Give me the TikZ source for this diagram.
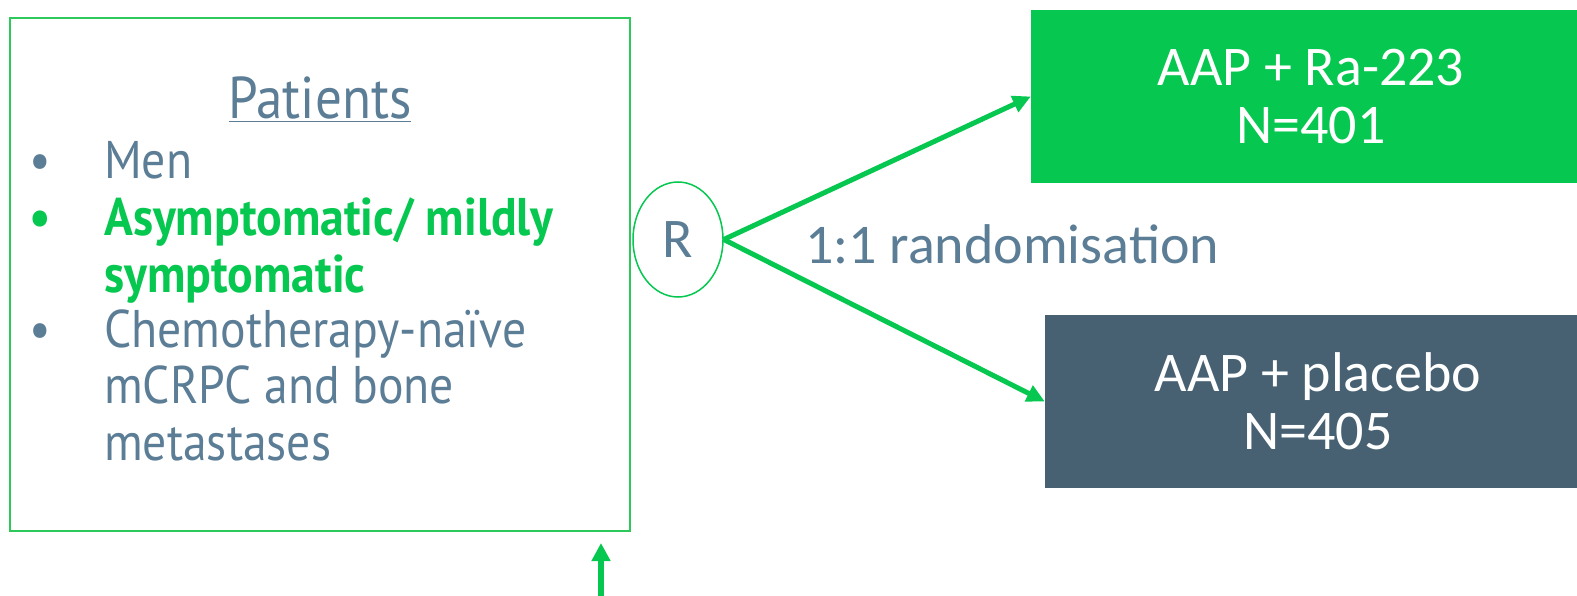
\documentclass[tikz,border=0pt]{standalone}
\usepackage{fontspec}
\setmainfont{Carlito}
\newfontfamily\narrowfont{PT Sans}[FakeStretch=0.9]
\usetikzlibrary{arrows.meta,shapes.geometric}

\definecolor{trialgreen}{HTML}{06C74F}
\definecolor{slate}{HTML}{476173}
\definecolor{greyblue}{HTML}{5B7D96}
\definecolor{framegreen}{HTML}{2DC95B}

\tikzset{
  armbox/.style={rectangle, inner sep=0, text=white, align=center,
    font=\fontsize{56}{58}\selectfont},
  randarrow/.style={draw=trialgreen, line width=5, -{Triangle[length=18,width=17]}},
  itemtext/.style={anchor=base west, inner sep=0, text=greyblue,
    font=\narrowfont\fontsize{53}{56}\selectfont},
  boldtext/.style={itemtext, text=trialgreen,
    font=\narrowfont\bfseries\fontsize{53}{56}\selectfont}
}

\begin{document}
\begin{tikzpicture}[x=1pt,y=-1pt]

      \useasboundingbox (0,0) rectangle (1577,596);

      % patient box
      \node[draw=framegreen, line width=1.5, minimum width=620, minimum height=513,
        inner sep=0] (pbox) at (320,274.5) {};
      \node[anchor=base, inner sep=0, text=greyblue,
        font=\narrowfont\fontsize{59}{60}\selectfont] (patients) at (320,119) {\underline{Patients}};

      \begin{scope}[every node/.style={itemtext}]
        \node (dot1)  at (29,179) {•};
        \node (men)   at (104,179) {Men};
        \node (chemo) at (104,347) {Chemotherapy-naïve};
        \node (dot3)  at (29,347) {•};
        \node (mcrpc) at (104,403) {mCRPC and bone};
        \node (meta)  at (104,460) {metastases};
      \end{scope}

      \begin{scope}[every node/.style={boldtext}]
        \node (dot2)  at (29,236) {•};
        \node (asym)  at (104,236) {Asymptomatic/ mildly};
        \node (sympt) at (104,292) {symptomatic};
      \end{scope}

      % randomisation
      \node[ellipse, draw=trialgreen, line width=1.5, minimum width=90, minimum height=115,
        inner sep=0, text=greyblue, font=\fontsize{56}{58}\selectfont] (rand) at (678,239.5) {R};
      \node[anchor=base west, inner sep=0, text=greyblue,
        font=\fontsize{56}{58}\selectfont] (ratio) at (805,263) {1:1 randomisation};

      % arms
      \node[armbox, fill=trialgreen, minimum width=560, minimum height=173] (ra) at (1311,96.5)
        {AAP + Ra-223\\N=401};
      \node[armbox, fill=slate, minimum width=546, minimum height=173] (pl) at (1318,401.5)
        {AAP + placebo\\N=405};

      \path (rand.east) edge[randarrow] (ra.west);
      \path (rand.east) edge[randarrow] (pl.west);

      \coordinate (foot) at (601,596);
      \coordinate (tip)  at (601,543);
      \draw[draw=trialgreen, line width=6, -{Triangle[length=18,width=18]}] (foot) -- (tip);

    \end{tikzpicture}
\end{document}
